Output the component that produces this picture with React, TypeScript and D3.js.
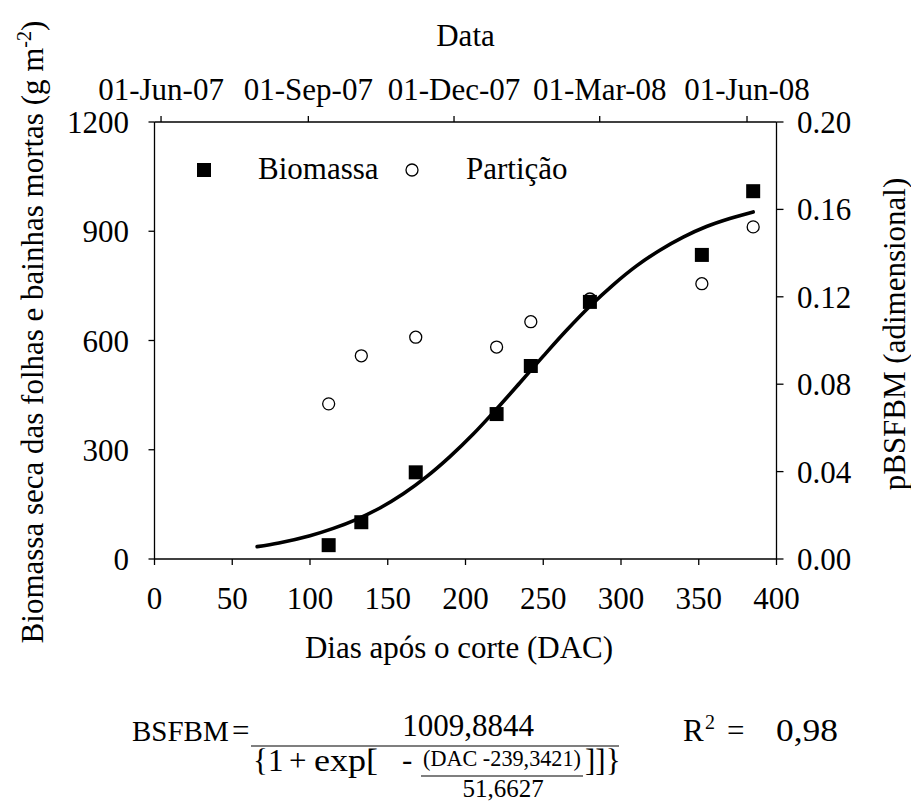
import React from "react";
import * as d3 from "d3";

// ---- data ----
const biomassDAC = [112, 133, 168, 220, 242, 280, 352, 385];
const biomassValues = [38, 101, 238, 398, 530, 706, 835, 1010];
const partitionDAC = [112, 133, 168, 220, 242, 280, 352, 385];
const partitionValues = [0.071, 0.093, 0.1015, 0.097, 0.1086, 0.119, 0.126, 0.152];
// fitted curve (DAC, g m-2)
const curveDAC = [66, 80, 100, 115, 130, 145, 160, 175, 190, 205, 220, 235, 250, 265, 280, 295, 310, 325, 340, 355, 370, 385];
const curveValues = [34, 44, 64, 84, 109, 140, 179, 226, 281, 343, 412, 484, 557, 628, 694, 753, 805, 848, 884, 913, 935, 953];
const xTicks = [0, 50, 100, 150, 200, 250, 300, 350, 400];
const yLeftTicks = [0, 300, 600, 900, 1200];
const yRightTicks = [0, 0.04, 0.08, 0.12, 0.16, 0.2];
const dateTicks = [
  new Date(2007, 5, 1),
  new Date(2007, 8, 1),
  new Date(2007, 11, 1),
  new Date(2008, 2, 1),
  new Date(2008, 5, 1),
];
const dateDomain = [new Date(2007, 4, 27, 22), new Date(2008, 5, 19, 10)];

const FONT = "'Liberation Serif', 'Times New Roman', serif";

export default function App() {
  const L = 154.5, R = 776.5, T = 122, B = 559;
  const x = d3.scaleLinear().domain([0, 400]).range([L, R]);
  const yL = d3.scaleLinear().domain([0, 1200]).range([B, T]);
  const yR = d3.scaleLinear().domain([0, 0.2]).range([B, T]);
  const xTop = d3.scaleTime().domain(dateDomain).range([L, R]);
  const fmtDate = d3.timeFormat("%d-%b-%y");
  const fmtR = d3.format(".2f");

  const line = d3
    .line<number>()
    .x((_, i) => x(curveDAC[i]))
    .y((d) => yL(d))
    .curve(d3.curveCatmullRom);

  const fs = 31;
  const sq = 14;
  const adj = "spacingAndGlyphs";

  return (
    <svg
      width={911}
      height={802}
      style={{ position: "absolute", left: 0, top: 0, background: "#fff" }}
      fontFamily={FONT}
      fontSize={fs}
    >
      <rect x={0} y={0} width={911} height={802} fill="#fff" />
      {/* frame */}
      <g stroke="#000" strokeWidth={1.3} fill="none">
        <line x1={L} x2={R} y1={B} y2={B} />
        <line x1={L} x2={R} y1={T} y2={T} />
        <line x1={L} x2={L} y1={T} y2={B} />
        <line x1={R} x2={R} y1={T} y2={B} />
      </g>
      {/* bottom axis */}
      {xTicks.map((t) => (
        <g key={"xb" + t}>
          <line x1={x(t)} x2={x(t)} y1={B} y2={B + 6} stroke="#000" strokeWidth={1.3} />
          <text x={x(t)} y={609} textAnchor="middle">
            {t}
          </text>
        </g>
      ))}
      {/* top date axis */}
      {dateTicks.map((d, i) => (
        <g key={"xt" + i}>
          <line x1={xTop(d)} x2={xTop(d)} y1={T} y2={T - 6} stroke="#000" strokeWidth={1.3} />
          <text x={xTop(d)} y={100} textAnchor="middle">
            {fmtDate(d)}
          </text>
        </g>
      ))}
      {/* left axis */}
      {yLeftTicks.map((t) => (
        <g key={"yl" + t}>
          <line x1={L - 6} x2={L} y1={yL(t)} y2={yL(t)} stroke="#000" strokeWidth={1.3} />
          <text x={129} y={yL(t) + 11} textAnchor="end">
            {t}
          </text>
        </g>
      ))}
      {/* right axis */}
      {yRightTicks.map((t) => (
        <g key={"yr" + t}>
          <line x1={R} x2={R + 7} y1={yR(t)} y2={yR(t)} stroke="#000" strokeWidth={1.3} />
          <text x={797} y={yR(t) + 11} textAnchor="start">
            {fmtR(t)}
          </text>
        </g>
      ))}
      {/* titles */}
      <text x={465.5} y={46} textAnchor="middle">Data</text>
      <text x={459} y={658} textAnchor="middle">Dias após o corte (DAC)</text>
      <text transform="translate(43,332) rotate(-90)" textAnchor="middle">
        Biomassa seca das folhas e bainhas mortas (g m
        <tspan fontSize={20} dy={-12}>-2</tspan>
        <tspan dy={12}>)</tspan>
      </text>
      <text transform="translate(905,334) rotate(-90)" textAnchor="middle">
        pBSFBM (adimensional)
      </text>

      {/* curve */}
      <path d={line(curveValues) || ""} fill="none" stroke="#000" strokeWidth={3.6} strokeLinecap="round" />

      {/* partition circles */}
      {partitionValues.map((v, i) => (
        <circle key={"c" + i} cx={x(partitionDAC[i])} cy={yR(v)} r={6} fill="#fff" stroke="#000" strokeWidth={1.3} />
      ))}
      {/* biomass squares */}
      {biomassValues.map((v, i) => (
        <rect key={"s" + i} x={x(biomassDAC[i]) - sq / 2} y={yL(v) - sq / 2} width={sq} height={sq} fill="#000" />
      ))}

      {/* legend */}
      <rect x={204 - sq / 2} y={170 - sq / 2} width={sq} height={sq} fill="#000" />
      <text x={258} y={179}>Biomassa</text>
      <circle cx={412} cy={170} r={6} fill="#fff" stroke="#000" strokeWidth={1.3} />
      <text x={466} y={179}>Partição</text>

      {/* equation */}
      <g>
        <text x={132} y={741} fontSize={29}>BSFBM</text>
        <text x={232} y={741}>=</text>
        <line x1={251} x2={619} y1={746} y2={746} stroke="#000" strokeWidth={1.2} />
        <text x={468} y={736} textAnchor="middle">1009,8844</text>
        <text x={253} y={771}>{"{1"}</text>
        <text x={289} y={771}>+</text>
        <text x={314} y={771} textLength={64} lengthAdjust={adj}>exp[</text>
        <text x={402} y={770}>-</text>
        <text x={502} y={766} fontSize={23} textAnchor="middle" textLength={158} lengthAdjust={adj}>(DAC -239,3421)</text>
        <line x1={421} x2={583} y1={776} y2={776} stroke="#000" strokeWidth={1.2} />
        <text x={503} y={797} fontSize={25} textAnchor="middle">51,6627</text>
        <text x={585} y={771}>{"]]}"}</text>
        <text x={683} y={741}>R</text>
        <text x={705} y={729} fontSize={20}>2</text>
        <text x={727} y={741}>=</text>
        <text x={776} y={741} textLength={62} lengthAdjust={adj}>0,98</text>
      </g>
    </svg>
  );
}
